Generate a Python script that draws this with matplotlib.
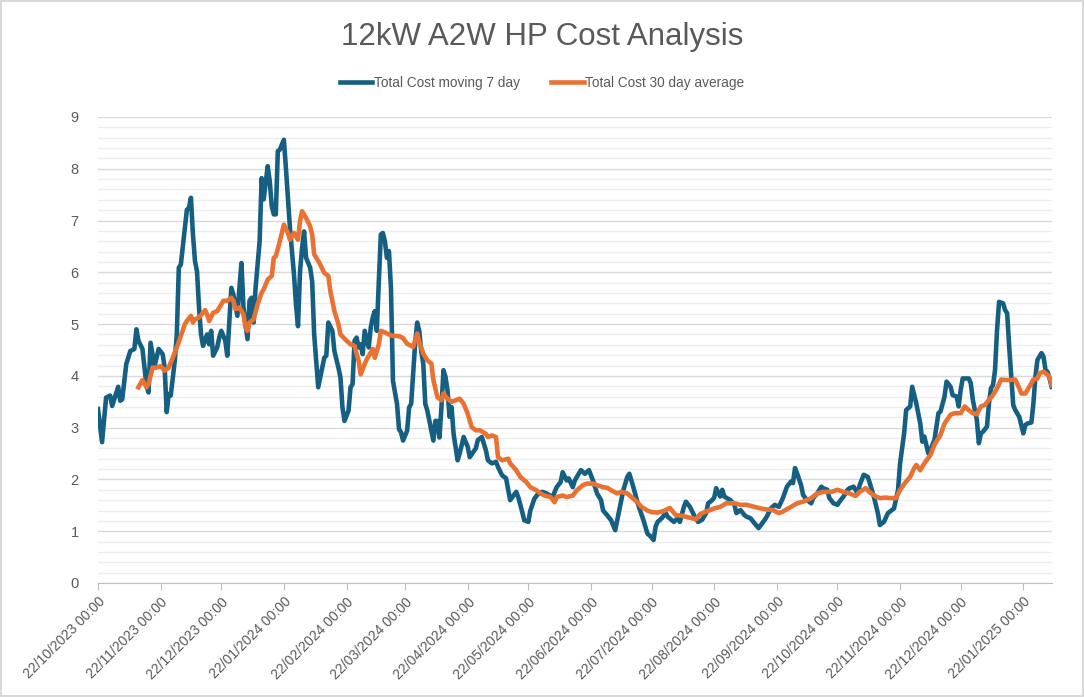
import matplotlib
matplotlib.use("Agg")
import matplotlib.pyplot as plt
import matplotlib.dates as mdates
from matplotlib.patches import Rectangle
from matplotlib.ticker import MultipleLocator
import pandas as pd

START = pd.Timestamp("2023-10-22")

# Total Cost moving 7 day: day offset from 22/10/2023 and value
blue_days = [
    0, 2, 4, 6, 7, 10, 11, 12, 14, 16, 18, 19, 20, 22, 23, 24, 25, 26, 28, 29,
    30, 32, 33, 34, 35, 36, 38, 39, 40, 41, 43, 44, 45, 46, 47, 48, 49, 50, 51, 52,
    54, 55, 56, 57, 59, 60, 61, 63, 64, 66, 67, 69, 70, 71, 72, 74, 75, 76, 77, 78,
    80, 81, 82, 84, 85, 86, 87, 88, 89, 90, 92, 93, 94, 95, 97, 98, 99, 100, 101, 102,
    103, 105, 106, 107, 109, 110, 112, 113, 114, 116, 117, 119, 120, 121, 122, 124, 125, 126, 127, 128,
    129, 130, 131, 132, 134, 135, 136, 137, 138, 139, 140, 141, 142, 143, 144, 145, 146, 148, 149, 150,
    151, 153, 154, 155, 157, 158, 159, 160, 161, 162, 163, 165, 166, 167, 168, 169, 170, 171, 172, 173,
    174, 175, 176, 178, 179, 181, 183, 184, 187, 188, 190, 192, 193, 195, 197, 198, 200, 202, 204, 207,
    208, 210, 211, 213, 214, 216, 218, 220, 222, 225, 227, 229, 230, 232, 233, 235, 236, 239, 241, 243,
    245, 247, 249, 250, 252, 254, 256, 257, 259, 260, 262, 263, 265, 267, 268, 270, 272, 273, 275, 276,
    277, 279, 281, 282, 285, 287, 288, 290, 291, 293, 295, 297, 299, 301, 302, 304, 305, 306, 308, 309,
    310, 313, 315, 316, 318, 320, 321, 323, 325, 327, 330, 331, 333, 335, 337, 339, 341, 343, 344, 345,
    346, 348, 349, 351, 353, 354, 356, 358, 359, 361, 362, 364, 366, 367, 369, 371, 372, 374, 376, 377,
    379, 381, 382, 384, 386, 387, 389, 391, 393, 394, 396, 397, 399, 400, 402, 403, 405, 407, 408, 409,
    411, 412, 414, 415, 416, 417, 419, 420, 422, 423, 425, 426, 427, 428, 431, 432, 433, 435, 436, 437,
    438, 440, 441, 442, 443, 444, 445, 446, 448, 449, 450, 451, 452, 453, 454, 456, 457, 458, 459, 460,
    462, 463, 464, 465, 467, 468, 469, 470, 471, 472,
]
blue_vals = [
    3.36, 2.72, 3.58, 3.62, 3.42, 3.79, 3.52, 3.55, 4.23, 4.48, 4.52, 4.90, 4.68, 4.52, 4.16, 3.81, 3.68, 4.64, 4.19, 4.35,
    4.52, 4.42, 4.16, 3.30, 3.65, 3.62, 4.29, 4.80, 6.09, 6.15, 6.86, 7.21, 7.24, 7.44, 6.73, 6.22, 6.02, 5.32, 4.80, 4.58,
    4.80, 4.61, 4.87, 4.39, 4.55, 4.74, 4.87, 4.68, 4.39, 5.70, 5.57, 5.16, 5.70, 6.18, 5.32, 4.71, 5.45, 5.51, 5.03, 5.70,
    6.60, 7.82, 7.41, 8.05, 7.76, 7.28, 7.12, 7.12, 8.34, 8.37, 8.56, 8.02, 7.44, 6.86, 5.96, 5.38, 4.96, 6.02, 6.47, 6.79,
    6.28, 6.09, 5.83, 4.80, 3.78, 3.97, 4.35, 4.39, 5.03, 4.87, 4.48, 4.16, 3.97, 3.39, 3.13, 3.33, 3.78, 3.84, 4.68, 4.74,
    4.55, 4.61, 4.42, 4.87, 4.55, 4.93, 5.13, 5.25, 4.87, 5.83, 6.73, 6.76, 6.60, 6.28, 6.41, 5.70, 3.90, 3.46, 2.97, 2.91,
    2.75, 2.94, 3.39, 3.46, 4.64, 5.03, 4.87, 4.48, 4.23, 3.46, 3.33, 2.94, 2.75, 3.13, 3.13, 2.81, 3.40, 4.11, 3.98, 3.72,
    3.21, 3.40, 2.88, 2.37, 2.50, 2.82, 2.63, 2.43, 2.60, 2.76, 2.82, 2.56, 2.37, 2.31, 2.34, 2.24, 2.08, 2.02, 1.60, 1.76,
    1.66, 1.37, 1.21, 1.18, 1.40, 1.63, 1.73, 1.76, 1.73, 1.66, 1.85, 1.95, 2.14, 1.98, 2.02, 1.85, 1.98, 2.18, 2.11, 2.18,
    1.98, 1.73, 1.60, 1.40, 1.31, 1.21, 1.02, 1.21, 1.60, 1.79, 2.05, 2.11, 1.85, 1.56, 1.44, 1.21, 0.95, 0.92, 0.83, 1.09,
    1.18, 1.25, 1.35, 1.28, 1.18, 1.25, 1.18, 1.47, 1.57, 1.47, 1.31, 1.18, 1.22, 1.35, 1.54, 1.60, 1.65, 1.83, 1.67, 1.80,
    1.67, 1.60, 1.51, 1.35, 1.41, 1.31, 1.28, 1.25, 1.15, 1.06, 1.22, 1.28, 1.44, 1.51, 1.47, 1.64, 1.86, 1.96, 1.93, 2.22,
    2.12, 1.89, 1.70, 1.60, 1.54, 1.64, 1.73, 1.86, 1.83, 1.80, 1.64, 1.54, 1.51, 1.57, 1.67, 1.80, 1.83, 1.86, 1.73, 1.89,
    2.09, 2.05, 1.93, 1.67, 1.35, 1.12, 1.18, 1.35, 1.41, 1.44, 1.80, 2.31, 2.89, 3.34, 3.41, 3.79, 3.47, 3.08, 2.73, 2.83,
    2.50, 2.57, 2.76, 3.02, 3.28, 3.31, 3.60, 3.89, 3.79, 3.63, 3.60, 3.41, 3.73, 3.95, 3.95, 3.86, 3.54, 3.15, 2.70, 2.89,
    2.92, 3.02, 3.47, 3.76, 3.82, 4.11, 4.89, 5.43, 5.40, 5.27, 5.21, 4.57, 3.99, 3.44, 3.34, 3.21, 3.05, 2.89, 3.05, 3.08,
    3.10, 3.47, 3.99, 4.31, 4.44, 4.37, 4.11, 4.08, 3.95, 3.79,
]

# Total Cost 30 day average
orange_days = [
    20, 22, 24, 25, 27, 29, 31, 33, 35, 37, 39, 41, 43, 44, 46, 47, 48, 50, 53, 54,
    55, 57, 59, 61, 62, 64, 66, 67, 68, 70, 72, 73, 74, 75, 77, 79, 81, 82, 84, 86,
    87, 88, 90, 92, 94, 95, 97, 99, 100, 101, 103, 105, 106, 107, 109, 110, 112, 114, 115, 117,
    119, 120, 123, 125, 127, 129, 130, 132, 133, 135, 136, 137, 139, 140, 142, 144, 146, 149, 151, 153,
    156, 158, 159, 161, 163, 165, 166, 168, 170, 171, 173, 175, 177, 179, 181, 183, 185, 187, 189, 192,
    193, 195, 197, 198, 200, 203, 204, 207, 209, 212, 214, 217, 219, 221, 224, 226, 227, 230, 232, 235,
    237, 240, 242, 245, 247, 250, 252, 254, 257, 259, 262, 264, 267, 269, 272, 274, 277, 280, 283, 286,
    289, 292, 296, 298, 301, 305, 308, 311, 315, 318, 321, 325, 328, 331, 334, 337, 339, 343, 346, 349,
    353, 356, 359, 363, 366, 369, 372, 375, 377, 380, 382, 385, 387, 390, 392, 395, 397, 400, 402, 404,
    405, 407, 409, 412, 414, 417, 419, 422, 424, 427, 429, 431, 433, 435, 437, 439, 441, 443, 445, 447,
    449, 452, 454, 456, 457, 459, 461, 463, 465, 466, 468, 470, 471, 472,
]
orange_vals = [
    3.78, 3.92, 3.78, 3.84, 4.16, 4.16, 4.19, 4.10, 4.16, 4.35, 4.55, 4.77, 5.00, 5.06, 5.16, 5.03, 5.09, 5.13, 5.27, 5.19,
    5.06, 5.22, 5.25, 5.38, 5.45, 5.45, 5.51, 5.45, 5.29, 5.32, 5.19, 4.93, 4.87, 5.03, 5.09, 5.38, 5.61, 5.67, 5.86, 5.93,
    6.28, 6.31, 6.60, 6.92, 6.76, 6.63, 6.76, 6.63, 6.99, 7.18, 7.05, 6.89, 6.73, 6.35, 6.22, 6.15, 5.99, 5.93, 5.64, 5.25,
    5.00, 4.80, 4.68, 4.61, 4.58, 4.29, 4.03, 4.23, 4.32, 4.45, 4.52, 4.35, 4.61, 4.87, 4.84, 4.80, 4.77, 4.77, 4.73, 4.62,
    4.56, 4.82, 4.66, 4.43, 4.30, 4.24, 3.92, 3.59, 3.53, 3.66, 3.56, 3.50, 3.53, 3.56, 3.46, 3.27, 3.01, 2.95, 2.95, 2.88,
    2.82, 2.85, 2.82, 2.43, 2.37, 2.40, 2.31, 2.18, 2.05, 1.95, 1.85, 1.79, 1.73, 1.69, 1.66, 1.56, 1.66, 1.69, 1.66, 1.69,
    1.79, 1.89, 1.92, 1.92, 1.89, 1.85, 1.84, 1.79, 1.73, 1.76, 1.73, 1.66, 1.56, 1.47, 1.40, 1.37, 1.36, 1.39, 1.45, 1.31,
    1.30, 1.27, 1.23, 1.33, 1.38, 1.44, 1.47, 1.54, 1.54, 1.51, 1.51, 1.47, 1.44, 1.42, 1.41, 1.35, 1.38, 1.47, 1.54, 1.57,
    1.64, 1.73, 1.76, 1.76, 1.80, 1.76, 1.73, 1.68, 1.76, 1.83, 1.75, 1.67, 1.64, 1.65, 1.64, 1.64, 1.80, 1.96, 2.05, 2.22,
    2.28, 2.18, 2.31, 2.47, 2.67, 2.86, 3.08, 3.25, 3.28, 3.28, 3.41, 3.34, 3.28, 3.26, 3.41, 3.44, 3.54, 3.63, 3.76, 3.93,
    3.92, 3.92, 3.93, 3.76, 3.66, 3.66, 3.79, 3.93, 3.95, 4.05, 4.08, 4.02, 3.98, 3.82,
]

blue_dates = START + pd.to_timedelta(blue_days, unit="D")
orange_dates = START + pd.to_timedelta(orange_days, unit="D")

GREY = "#595959"
plt.rcParams["font.family"] = ["Liberation Sans", "DejaVu Sans"]

fig = plt.figure(figsize=(10.84, 6.97), dpi=100)
ax = fig.add_axes([98 / 1084, 1 - 583 / 697, (1051.6 - 98) / 1084, (583 - 117) / 697])

ax.plot(blue_dates, blue_vals, color="#156082", lw=3.3, solid_joinstyle="round",
        label="Total Cost moving 7 day", zorder=3)
ax.plot(orange_dates, orange_vals, color="#E97132", lw=3.3, solid_joinstyle="round",
        label="Total Cost 30 day average", zorder=4)

ax.set_ylim(0, 9)
ax.set_xlim(blue_dates[0], blue_dates[-1])
ax.yaxis.set_major_locator(MultipleLocator(1))
ax.yaxis.set_minor_locator(MultipleLocator(0.2))
ax.grid(True, axis="y", which="major", color="#D9D9D9", lw=1.0)
ax.grid(True, axis="y", which="minor", color="#EDEDED", lw=1.0)
ax.set_axisbelow(True)

ax.xaxis.set_major_locator(mdates.MonthLocator(bymonthday=22))
ax.xaxis.set_major_formatter(mdates.DateFormatter("%d/%m/%Y %H:%M"))
for lab in ax.get_xticklabels():
    lab.set_rotation(45)
    lab.set_ha("right")
    lab.set_rotation_mode("anchor")

ax.tick_params(axis="x", colors="#BFBFBF", labelcolor=GREY, labelsize=10, length=5, direction="out")
ax.tick_params(axis="y", which="both", length=0, labelcolor=GREY, labelsize=10.5, pad=14)

for s in ["top", "right", "left"]:
    ax.spines[s].set_visible(False)
ax.spines["bottom"].set_color("#BFBFBF")

fig.text(0.5, 1 - 37 / 697, "12kW A2W HP Cost Analysis", ha="center", va="center",
         fontsize=22.5, color=GREY)
fig.legend(loc="center", bbox_to_anchor=(0.5, 1 - 83 / 697), ncol=2, frameon=False,
           fontsize=9.8, labelcolor=GREY, handlelength=2.4, handletextpad=0.1, columnspacing=2.3)

fig.patches.append(Rectangle((0.001, 0.001), 0.998, 0.997, transform=fig.transFigure,
                             fill=False, edgecolor="#D9D9D9", lw=1.5))

fig.savefig("out.png", dpi=100)
